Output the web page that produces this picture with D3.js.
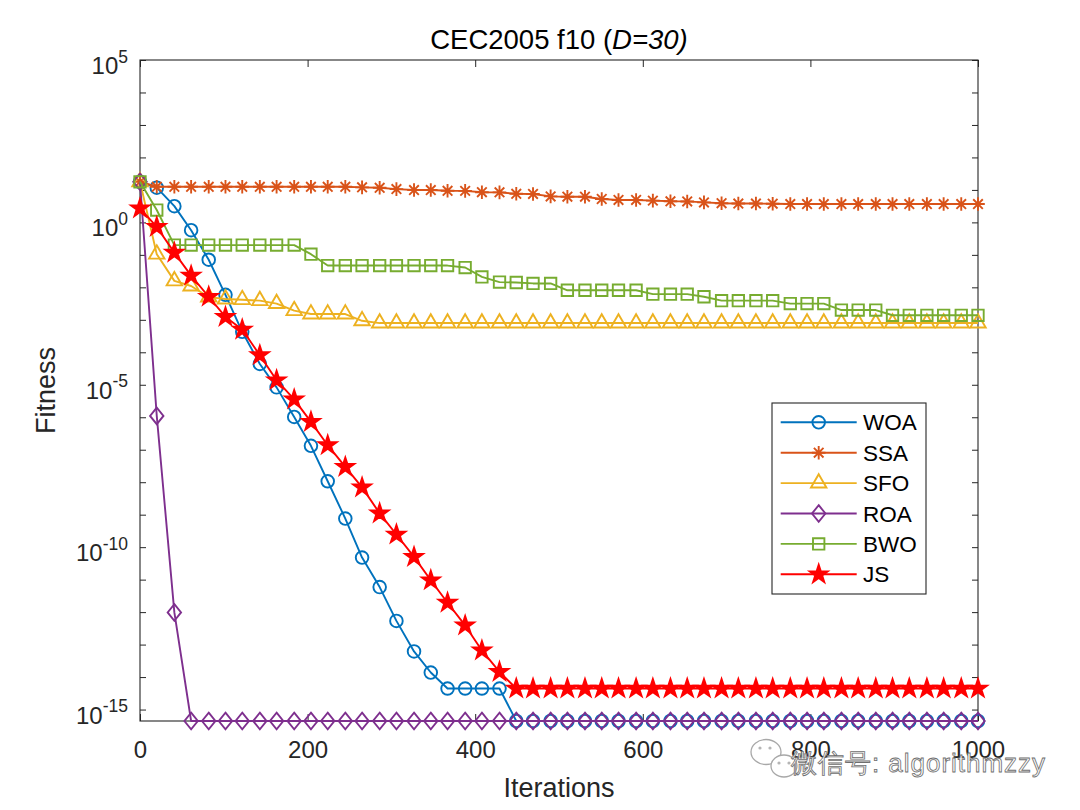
<!DOCTYPE html>
<html>
<head>
<meta charset="utf-8">
<script src="https://cdn.jsdelivr.net/npm/d3@7"></script>
<style>
  html, body { margin: 0; padding: 0; background: #fff; }
  svg { display: block; }
  text { font-family: "Liberation Sans", Arial, Helvetica, sans-serif; }
</style>
</head>
<body>
<script>
// ---------------- data ----------------
const iterations = [0,20,41,61,82,102,122,143,163,184,204,224,245,265,286,306,327,347,367,388,408,429,449,469,490,510,531,551,571,592,612,633,653,673,694,714,735,755,776,796,816,837,857,878,898,918,939,959,980,1000];

const seriesNames = ["WOA", "SSA", "SFO", "ROA", "BWO", "JS"];

const woa = [17.8, 11.7, 3.16, 0.575, 0.0708, 5.89e-3, 4.27e-4, 4.37e-5, 8.32e-6, 1.02e-6,
  1.32e-7, 1.07e-8, 7.59e-10, 4.79e-11, 5.89e-12, 5.37e-13, 6.17e-14, 1.38e-14, 4.44e-15, 4.44e-15,
  4.44e-15, 4.44e-15, 4.44e-16, 4.44e-16, 4.44e-16, 4.44e-16, 4.44e-16, 4.44e-16, 4.44e-16, 4.44e-16,
  4.44e-16, 4.44e-16, 4.44e-16, 4.44e-16, 4.44e-16, 4.44e-16, 4.44e-16, 4.44e-16, 4.44e-16, 4.44e-16,
  4.44e-16, 4.44e-16, 4.44e-16, 4.44e-16, 4.44e-16, 4.44e-16, 4.44e-16, 4.44e-16, 4.44e-16, 4.44e-16];

const ssa = [17.8, 12.5, 12.5, 12.5, 12.5, 12.5, 12.5, 12.5, 12.5, 12.5,
  12.5, 12.5, 12.5, 12.0, 11.6, 10.6, 9.89, 9.89, 9.40, 9.33,
  8.51, 8.41, 7.59, 7.50, 6.31, 6.17, 6.17, 5.25, 4.90, 4.90,
  4.68, 4.47, 4.42, 4.12, 3.89, 3.80, 3.80, 3.76, 3.67, 3.67,
  3.67, 3.67, 3.67, 3.67, 3.67, 3.67, 3.67, 3.67, 3.67, 3.67];

const sfo = [17.8, 0.105, 0.0158, 0.0110, 5.01e-3, 4.37e-3, 4.17e-3, 3.89e-3, 3.16e-3, 1.91e-3,
  1.51e-3, 1.51e-3, 1.51e-3, 9.33e-4, 7.94e-4, 7.94e-4, 7.94e-4, 7.94e-4, 7.94e-4, 7.94e-4,
  7.94e-4, 7.94e-4, 7.94e-4, 7.94e-4, 7.94e-4, 7.94e-4, 7.94e-4, 7.94e-4, 7.94e-4, 7.94e-4,
  7.94e-4, 7.94e-4, 7.94e-4, 7.94e-4, 7.94e-4, 7.94e-4, 7.94e-4, 7.94e-4, 7.94e-4, 7.94e-4,
  7.94e-4, 7.94e-4, 7.94e-4, 7.94e-4, 7.94e-4, 7.94e-4, 7.94e-4, 7.94e-4, 7.94e-4, 7.94e-4];

const roa = [17.8, 1.10e-6, 9.77e-13, 4.44e-16, 4.44e-16, 4.44e-16, 4.44e-16, 4.44e-16, 4.44e-16, 4.44e-16,
  4.44e-16, 4.44e-16, 4.44e-16, 4.44e-16, 4.44e-16, 4.44e-16, 4.44e-16, 4.44e-16, 4.44e-16, 4.44e-16,
  4.44e-16, 4.44e-16, 4.44e-16, 4.44e-16, 4.44e-16, 4.44e-16, 4.44e-16, 4.44e-16, 4.44e-16, 4.44e-16,
  4.44e-16, 4.44e-16, 4.44e-16, 4.44e-16, 4.44e-16, 4.44e-16, 4.44e-16, 4.44e-16, 4.44e-16, 4.44e-16,
  4.44e-16, 4.44e-16, 4.44e-16, 4.44e-16, 4.44e-16, 4.44e-16, 4.44e-16, 4.44e-16, 4.44e-16, 4.44e-16];

const bwo = [17.8, 2.40, 0.200, 0.200, 0.200, 0.200, 0.200, 0.200, 0.200, 0.200,
  0.105, 0.0468, 0.0468, 0.0468, 0.0468, 0.0468, 0.0468, 0.0468, 0.0468, 0.0407,
  0.0209, 0.0145, 0.0141, 0.0132, 0.0132, 8.13e-3, 8.13e-3, 8.13e-3, 8.13e-3, 8.13e-3,
  6.17e-3, 6.17e-3, 6.17e-3, 5.13e-3, 3.89e-3, 3.89e-3, 3.89e-3, 3.89e-3, 3.16e-3, 3.16e-3,
  3.16e-3, 2.00e-3, 2.00e-3, 2.00e-3, 1.38e-3, 1.38e-3, 1.38e-3, 1.38e-3, 1.38e-3, 1.38e-3];

const js = [2.69, 0.724, 0.117, 0.0229, 5.13e-3, 1.23e-3, 5.01e-4, 8.13e-5, 1.38e-5, 3.55e-6,
  7.24e-7, 1.38e-7, 2.95e-8, 6.92e-9, 1.10e-9, 2.45e-10, 5.01e-11, 9.55e-12, 1.95e-12, 3.89e-13,
  6.61e-14, 1.45e-14, 4.44e-15, 4.44e-15, 4.44e-15, 4.44e-15, 4.44e-15, 4.44e-15, 4.44e-15, 4.44e-15,
  4.44e-15, 4.44e-15, 4.44e-15, 4.44e-15, 4.44e-15, 4.44e-15, 4.44e-15, 4.44e-15, 4.44e-15, 4.44e-15,
  4.44e-15, 4.44e-15, 4.44e-15, 4.44e-15, 4.44e-15, 4.44e-15, 4.44e-15, 4.44e-15, 4.44e-15, 4.44e-15];

const xTicks = [0, 200, 400, 600, 800, 1000];
const xTickLabels = ["0", "200", "400", "600", "800", "1000"];
const yMajorExponents = [5, 0, -5, -10, -15];
const yMinorExponents = [5,4,3,2,1,0,-1,-2,-3,-4,-5,-6,-7,-8,-9,-10,-11,-12,-13,-14,-15];
const yDomain = [4.44e-16, 1e5];
const xDomain = [0, 1000];

const titleMain = "CEC2005 f10 (";
const titleItalic = "D=30)";
const xLabel = "Iterations";
const yLabel = "Fitness";
const watermark = "微信号: algorithmzzy";

// ---------------- styles ----------------
const colors = {WOA: "#0072BD", SSA: "#D95319", SFO: "#EDB120", ROA: "#7E2F8E", BWO: "#77AC30", JS: "#FF0000"};
const markers = {WOA: "circle", SSA: "asterisk", SFO: "triangle", ROA: "diamond", BWO: "square", JS: "star"};
const dataMap = {WOA: woa, SSA: ssa, SFO: sfo, ROA: roa, BWO: bwo, JS: js};

const W = 1080, H = 810;
const m = {left: 140, right: 978, top: 60, bottom: 721};
const axisColor = "#262626";

const svg = d3.select("body").append("svg").attr("width", W).attr("height", H)
  .attr("viewBox", `0 0 ${W} ${H}`);
svg.append("rect").attr("width", W).attr("height", H).attr("fill", "#fff");

const x = d3.scaleLinear().domain(xDomain).range([m.left, m.right]);
const y = d3.scaleLog().domain(yDomain).range([m.bottom, m.top]);

function markerPath(type) {
  switch (type) {
    case "circle": { const r = 6.3; return `M${r},0A${r},${r} 0 1,1 ${-r},0A${r},${r} 0 1,1 ${r},0Z`; }
    case "square": { const s = 5.7; return `M${-s},${-s}H${s}V${s}H${-s}Z`; }
    case "diamond": { const w = 6.7, h = 8.3; return `M0,${-h}L${w},0L0,${h}L${-w},0Z`; }
    case "triangle": { const R = 8.9; return `M0,${-R}L${R*0.866},${R/2}L${-R*0.866},${R/2}Z`; }
    case "asterisk": {
      const a = 6.8, d = a * 0.7071;
      return `M${-a},0H${a}M0,${-a}V${a}M${-d},${-d}L${d},${d}M${-d},${d}L${d},${-d}`;
    }
    case "star": {
      const R = 9.4, r = R * 0.382; let p = "";
      for (let i = 0; i < 10; i++) {
        const rr = i % 2 === 0 ? R : r;
        const ang = -Math.PI / 2 + i * Math.PI / 5;
        p += (i === 0 ? "M" : "L") + (rr * Math.cos(ang)).toFixed(2) + "," + (rr * Math.sin(ang)).toFixed(2);
      }
      return p + "Z";
    }
  }
}

// ---------------- axes ----------------
const gAxes = svg.append("g");

const xAxis = d3.axisBottom(x).tickValues(xTicks).tickSizeInner(-7).tickSizeOuter(0).tickPadding(20)
  .tickFormat((d, i) => xTickLabels[i]);
const gx = gAxes.append("g").attr("transform", `translate(0,${m.bottom})`).call(xAxis);
gx.select(".domain").remove();
gx.selectAll("line").attr("stroke", axisColor).attr("stroke-width", 1);
gx.selectAll("text").attr("fill", axisColor).attr("font-size", "24px")
  .attr("font-family", '"Liberation Sans", Arial, sans-serif');

const gxTop = gAxes.append("g").attr("transform", `translate(0,${m.top})`)
  .call(d3.axisTop(x).tickValues(xTicks).tickSizeInner(-7).tickSizeOuter(0).tickFormat(""));
gxTop.select(".domain").remove();
gxTop.selectAll("line").attr("stroke", axisColor).attr("stroke-width", 1);

const yTickVals = yMinorExponents.map(e => Math.pow(10, e));
const gy = gAxes.append("g").attr("transform", `translate(${m.left},0)`)
  .call(d3.axisLeft(y).tickValues(yTickVals).tickSizeInner(-6).tickSizeOuter(0).tickFormat(""));
gy.select(".domain").remove();
gy.selectAll("line").attr("stroke", axisColor).attr("stroke-width", 1);

const gyR = gAxes.append("g").attr("transform", `translate(${m.right},0)`)
  .call(d3.axisRight(y).tickValues(yTickVals).tickSizeInner(-6).tickSizeOuter(0).tickFormat(""));
gyR.select(".domain").remove();
gyR.selectAll("line").attr("stroke", axisColor).attr("stroke-width", 1);

const yLab = gAxes.append("g");
yMajorExponents.forEach(e => {
  const t = yLab.append("text")
    .attr("x", m.left - 12)
    .attr("y", y(Math.pow(10, e)) + 14)
    .attr("text-anchor", "end")
    .attr("fill", axisColor)
    .attr("font-size", "24px");
  t.append("tspan").text("10");
  t.append("tspan").attr("dy", -11.5).attr("font-size", "17.5px").text(String(e));
});

gAxes.append("rect")
  .attr("x", m.left).attr("y", m.top)
  .attr("width", m.right - m.left).attr("height", m.bottom - m.top)
  .attr("fill", "none").attr("stroke", axisColor).attr("stroke-width", 1.1);

// ---------------- series ----------------
const line = d3.line().x((d, i) => x(iterations[i])).y(d => y(d));
const gSeries = svg.append("g");
seriesNames.forEach(name => {
  const vals = dataMap[name];
  const g = gSeries.append("g");
  g.append("path").datum(vals)
    .attr("d", line)
    .attr("fill", "none")
    .attr("stroke", colors[name])
    .attr("stroke-width", 1.9)
    .attr("stroke-linejoin", "round");
  const mp = markerPath(markers[name]);
  g.selectAll("path.mk").data(vals).enter().append("path")
    .attr("class", "mk")
    .attr("d", mp)
    .attr("transform", (d, i) => `translate(${x(iterations[i])},${y(d)})`)
    .attr("fill", name === "JS" ? colors[name] : "none")
    .attr("stroke", colors[name])
    .attr("stroke-width", 1.9)
    .attr("stroke-linejoin", "miter");
});

// ---------------- labels ----------------
const title = svg.append("text")
  .attr("x", (m.left + m.right) / 2).attr("y", 49)
  .attr("text-anchor", "middle")
  .attr("font-size", "27.5px").attr("fill", "#000");
title.append("tspan").text(titleMain);
title.append("tspan").attr("font-style", "italic").text(titleItalic);

svg.append("text")
  .attr("x", (m.left + m.right) / 2).attr("y", 797)
  .attr("text-anchor", "middle")
  .attr("font-size", "27px").attr("fill", axisColor)
  .text(xLabel);

svg.append("text")
  .attr("transform", `translate(55,${(m.top + m.bottom) / 2}) rotate(-90)`)
  .attr("text-anchor", "middle")
  .attr("font-size", "27px").attr("fill", axisColor)
  .text(yLabel);

// ---------------- legend ----------------
const leg = {x: 772, y: 403, w: 154, h: 191, row: 30.4, first: 19.3};
const gLeg = svg.append("g");
gLeg.append("rect").attr("x", leg.x).attr("y", leg.y).attr("width", leg.w).attr("height", leg.h)
  .attr("fill", "#fff").attr("stroke", axisColor).attr("stroke-width", 1.1);
seriesNames.forEach((name, i) => {
  const cy = leg.y + leg.first + i * leg.row;
  gLeg.append("line").attr("x1", leg.x + 8.7).attr("x2", leg.x + 84.7).attr("y1", cy).attr("y2", cy)
    .attr("stroke", colors[name]).attr("stroke-width", 1.9);
  gLeg.append("path").attr("d", markerPath(markers[name]))
    .attr("transform", `translate(${leg.x + 46.7},${cy})`)
    .attr("fill", name === "JS" ? colors[name] : "none")
    .attr("stroke", colors[name]).attr("stroke-width", 1.9);
  gLeg.append("text").attr("x", leg.x + 91).attr("y", cy + 8)
    .attr("font-size", "22.5px").attr("fill", "#000").text(name);
});

// ---------------- watermark ----------------
const gW = svg.append("g");
gW.append("ellipse").attr("cx", 766).attr("cy", 752).attr("rx", 15).attr("ry", 12.5)
  .attr("fill", "#fff").attr("stroke", "#a8a8a8").attr("stroke-width", 1.3);
gW.append("ellipse").attr("cx", 784).attr("cy", 766).attr("rx", 13).attr("ry", 11)
  .attr("fill", "#fff").attr("stroke", "#a8a8a8").attr("stroke-width", 1.3);
[[760, 748], [770, 748], [779, 763], [789, 763]].forEach(p => {
  gW.append("circle").attr("cx", p[0]).attr("cy", p[1]).attr("r", 1.6).attr("fill", "#b5b5b5");
});
gW.append("text")
  .attr("x", 791).attr("y", 772)
  .attr("font-family", '"Noto Sans CJK SC", sans-serif')
  .attr("font-size", "26px")
  .attr("textLength", 254).attr("lengthAdjust", "spacing")
  .attr("fill", "#fbfbfb").attr("stroke", "#6e6e6e").attr("stroke-width", 0.8)
  .text(watermark);
</script>
</body>
</html>
